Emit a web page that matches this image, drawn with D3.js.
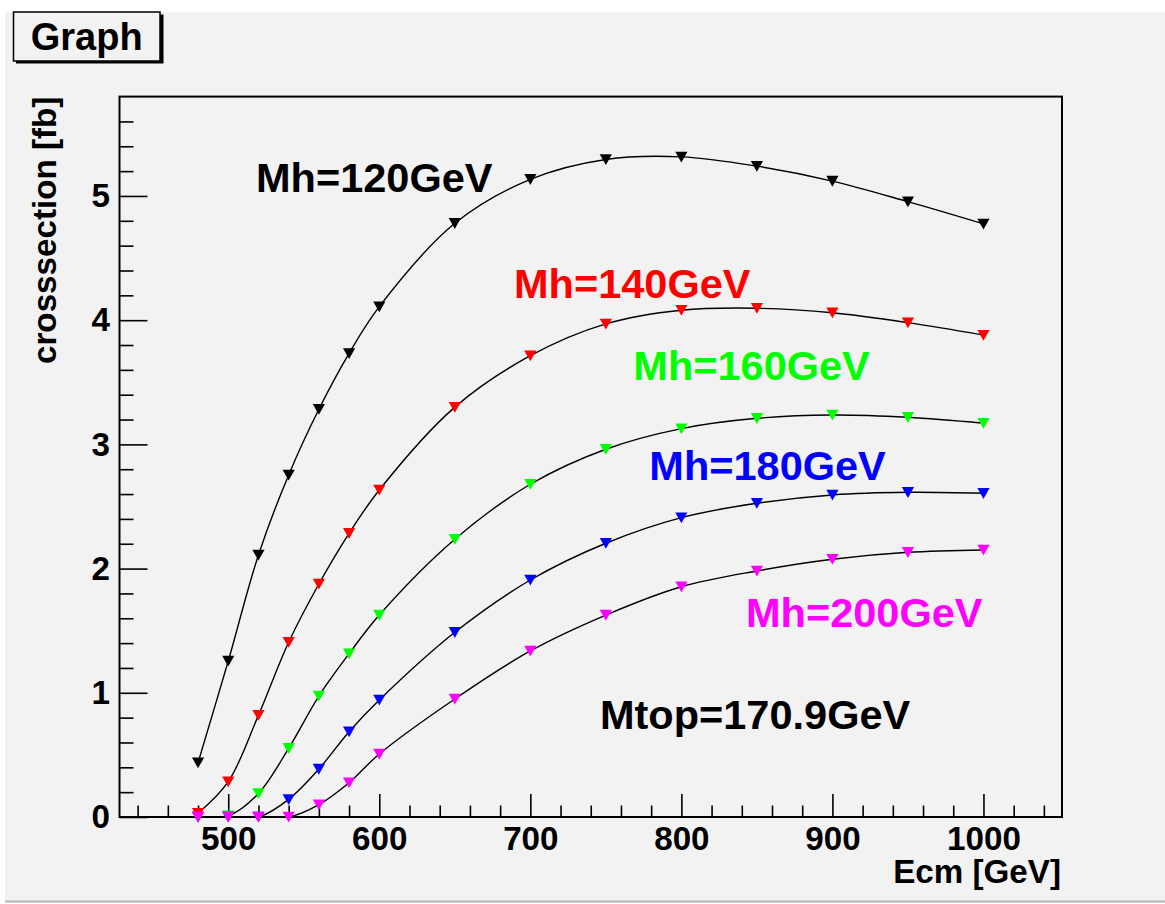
<!DOCTYPE html>
<html><head><meta charset="utf-8">
<script src="https://cdn.jsdelivr.net/npm/d3@7"></script>
<style>
body{margin:0;background:#fff}
svg{display:block}
text{font-family:"Liberation Sans",Arial,Helvetica,sans-serif;font-weight:bold}
</style>
</head><body>
<svg id="c" width="1165" height="904"></svg>
<script>
// ---- data ----
const ecm = [480,500,520,540,560,580,600,650,700,750,800,850,900,950,1000];
const mh120 = [0.437,1.256,2.11,2.754,3.283,3.733,4.109,4.78,5.134,5.294,5.315,5.24,5.12,4.954,4.775];
const mh140 = [0.03,0.284,0.82,1.407,1.876,2.284,2.633,3.30,3.714,3.97,4.08,4.096,4.06,3.98,3.88];
const mh160 = [0,0.01,0.19,0.553,0.974,1.315,1.626,2.236,2.679,2.961,3.127,3.21,3.237,3.218,3.17];
const mh180 = [0,0,0,0.142,0.386,0.687,0.942,1.487,1.908,2.204,2.41,2.526,2.593,2.614,2.606];
const mh200 = [0,0,0,0,0.10,0.276,0.507,0.95,1.337,1.626,1.854,1.981,2.075,2.131,2.15];
const seriesNames = ["Mh=120GeV","Mh=140GeV","Mh=160GeV","Mh=180GeV","Mh=200GeV"];
const seriesColors = ["#000000","#ff0000","#00ff00","#0000ff","#ff00ff"];
const xMajorTicks = [500,600,700,800,900,1000];
const yMajorTicks = [0,1,2,3,4,5];
const titleText = "Graph";
const xTitle = "Ecm [GeV]";
const yTitle = "crosssection [fb]";
const noteText = "Mtop=170.9GeV";
// label anchors in data coordinates (Ecm, cross-section)
const labelAnchors = [[518.4,5.032],[689.2,4.179],[768.2,3.518],[778.8,2.713],[842.8,1.532]];
const noteAnchor = [746.1,0.709];

const allSeries = [mh120,mh140,mh160,mh180,mh200];

// ---- layout ----
const svg = d3.select("#c");
const L=119.5, R=1062, T=96.6, B=817;
const x = d3.scaleLinear().domain([428,1052]).range([L,R]);
const y = d3.scaleLinear().domain([0,5.8]).range([B,T]);

svg.append("defs").append("clipPath").attr("id","frameclip")
  .append("rect").attr("x",L).attr("y",T).attr("width",R-L).attr("height",B-T);

// canvas background
svg.append("rect").attr("x",5).attr("y",12).attr("width",1160).attr("height",890).attr("fill","#f2f2f2");
svg.append("line").attr("x1",5).attr("x2",1165).attr("y1",901.5).attr("y2",901.5).attr("stroke","#b4b4b4").attr("stroke-width",2);

// title box
svg.append("rect").attr("x",16).attr("y",14.5).attr("width",147.5).attr("height",49).attr("fill","#000");
svg.append("rect").attr("x",13.5).attr("y",12).attr("width",146.5).attr("height",49).attr("fill","#f2f2f2").attr("stroke","#000").attr("stroke-width",1.5);
svg.append("text").attr("x",86.7).attr("y",50).attr("text-anchor","middle").attr("font-size",38).text(titleText);

// axes
const xMinor = d3.range(440,1041,20).filter(v=>!xMajorTicks.includes(v));
const yMinor = d3.range(0,29).map(i=>+(i*0.2).toFixed(1)).filter(v=>v<=5.7 && !yMajorTicks.includes(v));

const gx = svg.append("g").attr("transform",`translate(0,${B})`);
gx.call(d3.axisBottom(x).tickValues(xMajorTicks).tickSize(-23).tickPadding(9).tickFormat(d3.format("d")));
const gxm = svg.append("g").attr("transform",`translate(0,${B})`);
gxm.call(d3.axisBottom(x).tickValues(xMinor).tickSize(-11.5).tickFormat(""));
const gy = svg.append("g").attr("transform",`translate(${L},0)`);
gy.call(d3.axisLeft(y).tickValues(yMajorTicks).tickSize(-28).tickPadding(9.5).tickFormat(d3.format("d")));
const gym = svg.append("g").attr("transform",`translate(${L},0)`);
gym.call(d3.axisLeft(y).tickValues(yMinor).tickSize(-14).tickFormat(""));
svg.selectAll(".domain").remove();
svg.selectAll(".tick line").attr("stroke","#000").attr("stroke-width",1.6);
svg.selectAll(".tick text").attr("font-size",33.2).attr("fill","#000")
   .style("font-family",'"Liberation Sans",Arial,sans-serif').style("font-weight","bold");

// series lines (clipped to frame)
const line = d3.line().x(d=>x(d[0])).y(d=>y(d[1])).curve(d3.curveCatmullRom.alpha(0.5));
const lineLayer = svg.append("g").attr("clip-path","url(#frameclip)");
allSeries.forEach((vals)=>{
  const pts = ecm.map((e,j)=>[e,vals[j]]);
  lineLayer.append("path").datum(pts).attr("d",line).attr("fill","none").attr("stroke","#000").attr("stroke-width",1.4);
});

// frame
svg.append("rect").attr("x",L).attr("y",T).attr("width",R-L).attr("height",B-T)
  .attr("fill","none").attr("stroke","#000").attr("stroke-width",2);
svg.append("line").attr("x1",L).attr("x2",R).attr("y1",B).attr("y2",B).attr("stroke","#000").attr("stroke-width",2.2);

// markers
const tri = "M-6.1,-5.2 L6.1,-5.2 L0,5.6 Z";
allSeries.forEach((vals,i)=>{
  const pts = ecm.map((e,j)=>[e,vals[j]]);
  svg.append("g").attr("class","mk").selectAll("path").data(pts).join("path")
    .attr("d",tri).attr("transform",d=>`translate(${x(d[0])},${y(d[1])})`).attr("fill",seriesColors[i]);
});

// axis titles
svg.append("text").attr("x",R-1).attr("y",883).attr("text-anchor","end").attr("font-size",33.2).text(xTitle);
svg.append("text").attr("transform",`translate(56,${T}) rotate(-90)`).attr("text-anchor","end").attr("font-size",33.2).text(yTitle);

// labels
seriesNames.forEach((n,i)=>{
  svg.append("text").attr("x",x(labelAnchors[i][0])).attr("y",y(labelAnchors[i][1]))
    .attr("font-size",41.5).attr("fill",seriesColors[i]).text(n);
});
svg.append("text").attr("x",x(noteAnchor[0])).attr("y",y(noteAnchor[1])).attr("font-size",41.5).attr("fill","#000").text(noteText);
</script>
</body></html>
